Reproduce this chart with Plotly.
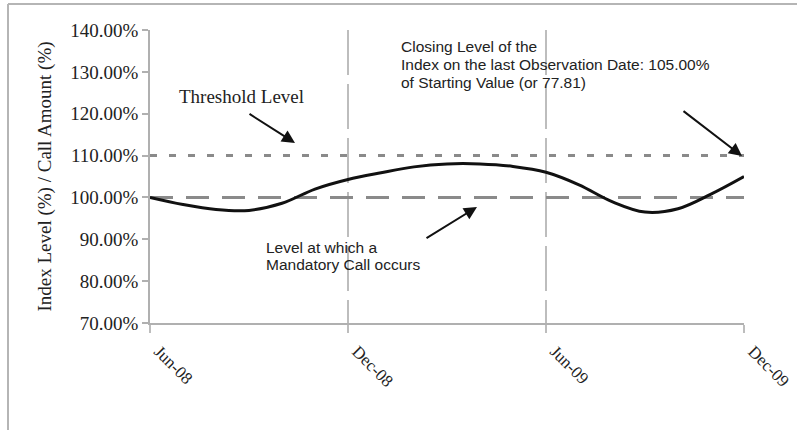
import plotly.graph_objects as go

# Monthly observation dates and index level (% of starting value)
months = ["Jun-08", "Jul-08", "Aug-08", "Sep-08", "Oct-08", "Nov-08", "Dec-08",
          "Jan-09", "Feb-09", "Mar-09", "Apr-09", "May-09", "Jun-09",
          "Jul-09", "Aug-09", "Sep-09", "Oct-09", "Nov-09", "Dec-09"]
index_level = [100.0, 98.3, 97.1, 96.9, 98.6, 102.0, 104.3,
               105.9, 107.3, 108.0, 108.0, 107.4, 106.0,
               103.0, 99.0, 96.5, 97.3, 100.8, 105.0]
threshold_level = 110.0
call_level = 100.0
tick_labels = ["Jun-08", "Dec-08", "Jun-09", "Dec-09"]

closing_note = ["Closing Level of the",
                "Index on the last Observation Date: 105.00%",
                "of Starting Value (or 77.81)"]
call_note = ["Level at which a", "Mandatory Call occurs"]

W, H = 797, 430
L, R, T, B = 150, 53, 30, 107
PW, PH = W - L - R, H - T - B


def px(x):
    return (x - L) / PW


def py(y):
    return (H - B - y) / PH


serif = "Liberation Serif, Times New Roman, serif"
sans = "Liberation Sans, Arial, sans-serif"
grey = "#8a8a8a"

fig = go.Figure()

fig.add_trace(go.Scatter(
    x=[months[0], months[-1]], y=[threshold_level, threshold_level],
    mode="lines", line=dict(color=grey, width=3, dash="7px,12px"),
    hoverinfo="skip"))
fig.add_trace(go.Scatter(
    x=[months[0], months[-1]], y=[call_level, call_level],
    mode="lines", line=dict(color=grey, width=3, dash="23px,13px"),
    hoverinfo="skip"))
fig.add_trace(go.Scatter(
    x=months, y=index_level, mode="lines",
    line=dict(color="#111111", width=3, shape="spline", smoothing=1.0)))

fig.update_xaxes(
    type="category", categoryorder="array", categoryarray=months,
    range=[0, len(months) - 1], automargin=False,
    tickmode="array", tickvals=tick_labels, ticktext=tick_labels,
    tickangle=45, tickfont=dict(family=serif, size=17, color="#222"),
    ticklabelshift=9, ticklabelstandoff=2,
    showgrid=True, gridcolor="#bdbdbd", gridwidth=1.5, griddash="45px,9px",
    ticks="outside", ticklen=8, tickcolor="#bdbdbd", tickwidth=1.5,
    showline=True, linecolor="#b0b0b0", linewidth=1.5, zeroline=False)

fig.update_yaxes(
    range=[70, 140], dtick=10, tick0=70, tickformat=".2f", ticksuffix="%",
    tickfont=dict(family=serif, size=19, color="#222"), automargin=False,
    showgrid=False, ticks="outside", ticklen=6, tickcolor="#b0b0b0",
    tickwidth=1.5, showline=True, linecolor="#b0b0b0", linewidth=1.5,
    zeroline=False,
    title=dict(text="Index Level (%) / Call Amount (%)",
               font=dict(family=serif, size=19, color="#222"), standoff=14))

annotations = [
    dict(text="Threshold Level", x=px(241), y=py(97), xanchor="center",
         yanchor="middle", showarrow=False,
         font=dict(family=serif, size=19, color="#222")),
]
# Note lines, one annotation per line
for i, line in enumerate(closing_note):
    annotations.append(dict(
        text=line, x=px(399), y=py(47 + 17.5 * i), xanchor="left",
        yanchor="middle", showarrow=False,
        font=dict(family=sans, size=15.5, color="#222")))
for i, line in enumerate(call_note):
    annotations.append(dict(
        text=line, x=px(264), y=py(247 + 17.5 * i), xanchor="left",
        yanchor="middle", showarrow=False,
        font=dict(family=sans, size=15.5, color="#222")))

# Pointer arrows: (head x, head y, tail offset x, tail offset y) in pixels
arrows = [(295, 143, -47, -30), (742, 156, -60, -46), (477, 207, -52, 32)]
for hx, hy, dx, dy in arrows:
    annotations.append(dict(
        text="", x=px(hx), y=py(hy),
        ax=dx, ay=dy, axref="pixel", ayref="pixel", showarrow=True,
        arrowhead=2, arrowsize=1.3, arrowwidth=2, arrowcolor="#111"))
for a in annotations:
    a.setdefault("xref", "paper")
    a.setdefault("yref", "paper")

# Outer frame (top and left edges)
shapes = [
    dict(type="line", xref="paper", yref="paper", x0=px(8), y0=py(4),
         x1=px(W), y1=py(4), line=dict(color="#b5b5b5", width=2)),
    dict(type="line", xref="paper", yref="paper", x0=px(8), y0=py(4),
         x1=px(8), y1=py(H), line=dict(color="#b5b5b5", width=2)),
]

fig.update_layout(
    width=W, height=H, margin=dict(l=L, r=R, t=T, b=B, autoexpand=False),
    paper_bgcolor="white", plot_bgcolor="white", showlegend=False,
    annotations=annotations, shapes=shapes)

fig.write_html("out.html")
